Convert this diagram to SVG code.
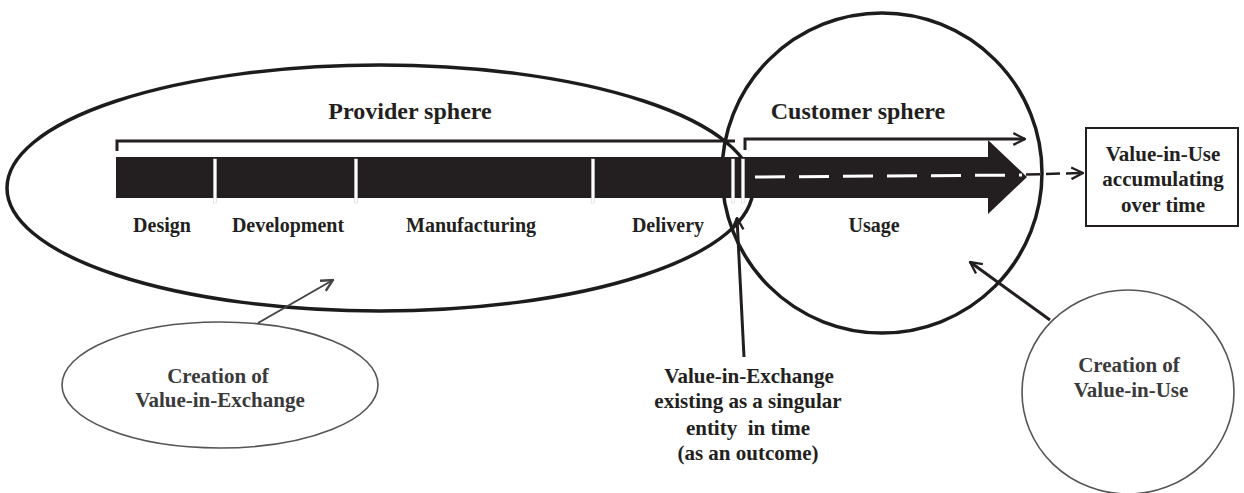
<svg xmlns="http://www.w3.org/2000/svg" width="1244" height="493" viewBox="0 0 1244 493">
<defs>
<style>
.lbl{font-family:"Liberation Serif","Times New Roman",serif;font-weight:bold;fill:#231f20;text-anchor:middle}
.s20{font-size:20px}
.s21{font-size:21px}
.s24{font-size:24px}
.grey{fill:#3a3a3a}
.sphere{fill:none;stroke:#1c1c1c;stroke-width:3.5}
.thin{fill:none;stroke:#555;stroke-width:1.6}
.sep{fill:#fff;stroke:#d0d0d0;stroke-width:0.5}
</style>
<marker id="chev" viewBox="0 0 12 12" refX="11" refY="6" markerWidth="14" markerHeight="14" markerUnits="userSpaceOnUse" orient="auto">
<path d="M1,1 L11,6 L1,11" fill="none" stroke="#231f20" stroke-width="2"/>
</marker>
<marker id="chevg" viewBox="0 0 12 12" refX="11" refY="6" markerWidth="14" markerHeight="14" markerUnits="userSpaceOnUse" orient="auto">
<path d="M1,1 L11,6 L1,11" fill="none" stroke="#444" stroke-width="2"/>
</marker>
</defs>
<rect width="1244" height="493" fill="#fff"/>

<g id="provider-sphere">
<ellipse class="sphere" cx="380" cy="188" rx="373" ry="123"/>
<text class="lbl s24" x="410" y="119">Provider sphere</text>
</g>

<g id="customer-sphere">
<circle class="sphere" cx="882" cy="173" r="160"/>
<text class="lbl s24" x="858" y="119">Customer sphere</text>
</g>

<g id="process-bar">
<rect x="116" y="157" width="874" height="41" fill="#231f20"/>
<polygon points="988,140 1027,177 988,214" fill="#231f20"/>
<rect class="sep" x="213.5" y="159" width="3" height="44"/>
<rect class="sep" x="354.5" y="159" width="3" height="44"/>
<rect class="sep" x="591.5" y="159" width="3" height="44"/>
<rect class="sep" x="731.5" y="159" width="3" height="44"/>
<rect class="sep" x="741.5" y="159" width="3" height="44"/>
<text class="lbl s20" x="162" y="232">Design</text>
<text class="lbl s20" x="288" y="232">Development</text>
<text class="lbl s20" x="471" y="232">Manufacturing</text>
<text class="lbl s20" x="668" y="232">Delivery</text>
<text class="lbl s20" x="874" y="232">Usage</text>
</g>

<g id="value-in-use-box">
<rect x="1086" y="128" width="152" height="98" fill="#fff" stroke="#231f20" stroke-width="2"/>
<text class="lbl s21" x="1163" y="161">Value-in-Use</text>
<text class="lbl s21" x="1163" y="186">accumulating</text>
<text class="lbl s21" x="1163" y="212">over time</text>
</g>

<g id="creation-value-in-exchange">
<ellipse class="thin" cx="220" cy="385" rx="158" ry="63"/>
<text class="lbl s21 grey" x="218" y="383">Creation of</text>
<text class="lbl s21 grey" x="220" y="407">Value-in-Exchange</text>
</g>

<g id="creation-value-in-use">
<ellipse class="thin" cx="1128" cy="392" rx="106" ry="102"/>
<text class="lbl s21 grey" x="1129" y="372">Creation of</text>
<text class="lbl s21 grey" x="1131" y="397">Value-in-Use</text>
</g>

<g id="value-in-exchange-note">
<text class="lbl s21" x="749" y="383">Value-in-Exchange</text>
<text class="lbl s21" x="748" y="408">existing as a singular</text>
<text class="lbl s21" x="748" y="435" xml:space="preserve" style="white-space:pre">entity  in time</text>
<text class="lbl s21" x="748" y="460">(as an outcome)</text>
</g>

<g id="connectors">
<path d="M117,151 V141 H735" fill="none" stroke="#231f20" stroke-width="3"/>
<path d="M745,150 V139 H1025" fill="none" stroke="#231f20" stroke-width="3" marker-end="url(#chev)"/>
<line x1="755" y1="177" x2="1022" y2="175" stroke="#fff" stroke-width="3" stroke-dasharray="30 14"/>
<line x1="1026" y1="174.5" x2="1083" y2="173" stroke="#231f20" stroke-width="2.5" stroke-dasharray="14 6" marker-end="url(#chev)"/>
<line x1="744" y1="357" x2="737" y2="218" stroke="#231f20" stroke-width="3" marker-end="url(#chev)"/>
<line x1="258" y1="323" x2="333" y2="280" stroke="#444" stroke-width="2" marker-end="url(#chevg)"/>
<line x1="1050" y1="320" x2="970" y2="262" stroke="#231f20" stroke-width="3" marker-end="url(#chev)"/>
</g>
</svg>
